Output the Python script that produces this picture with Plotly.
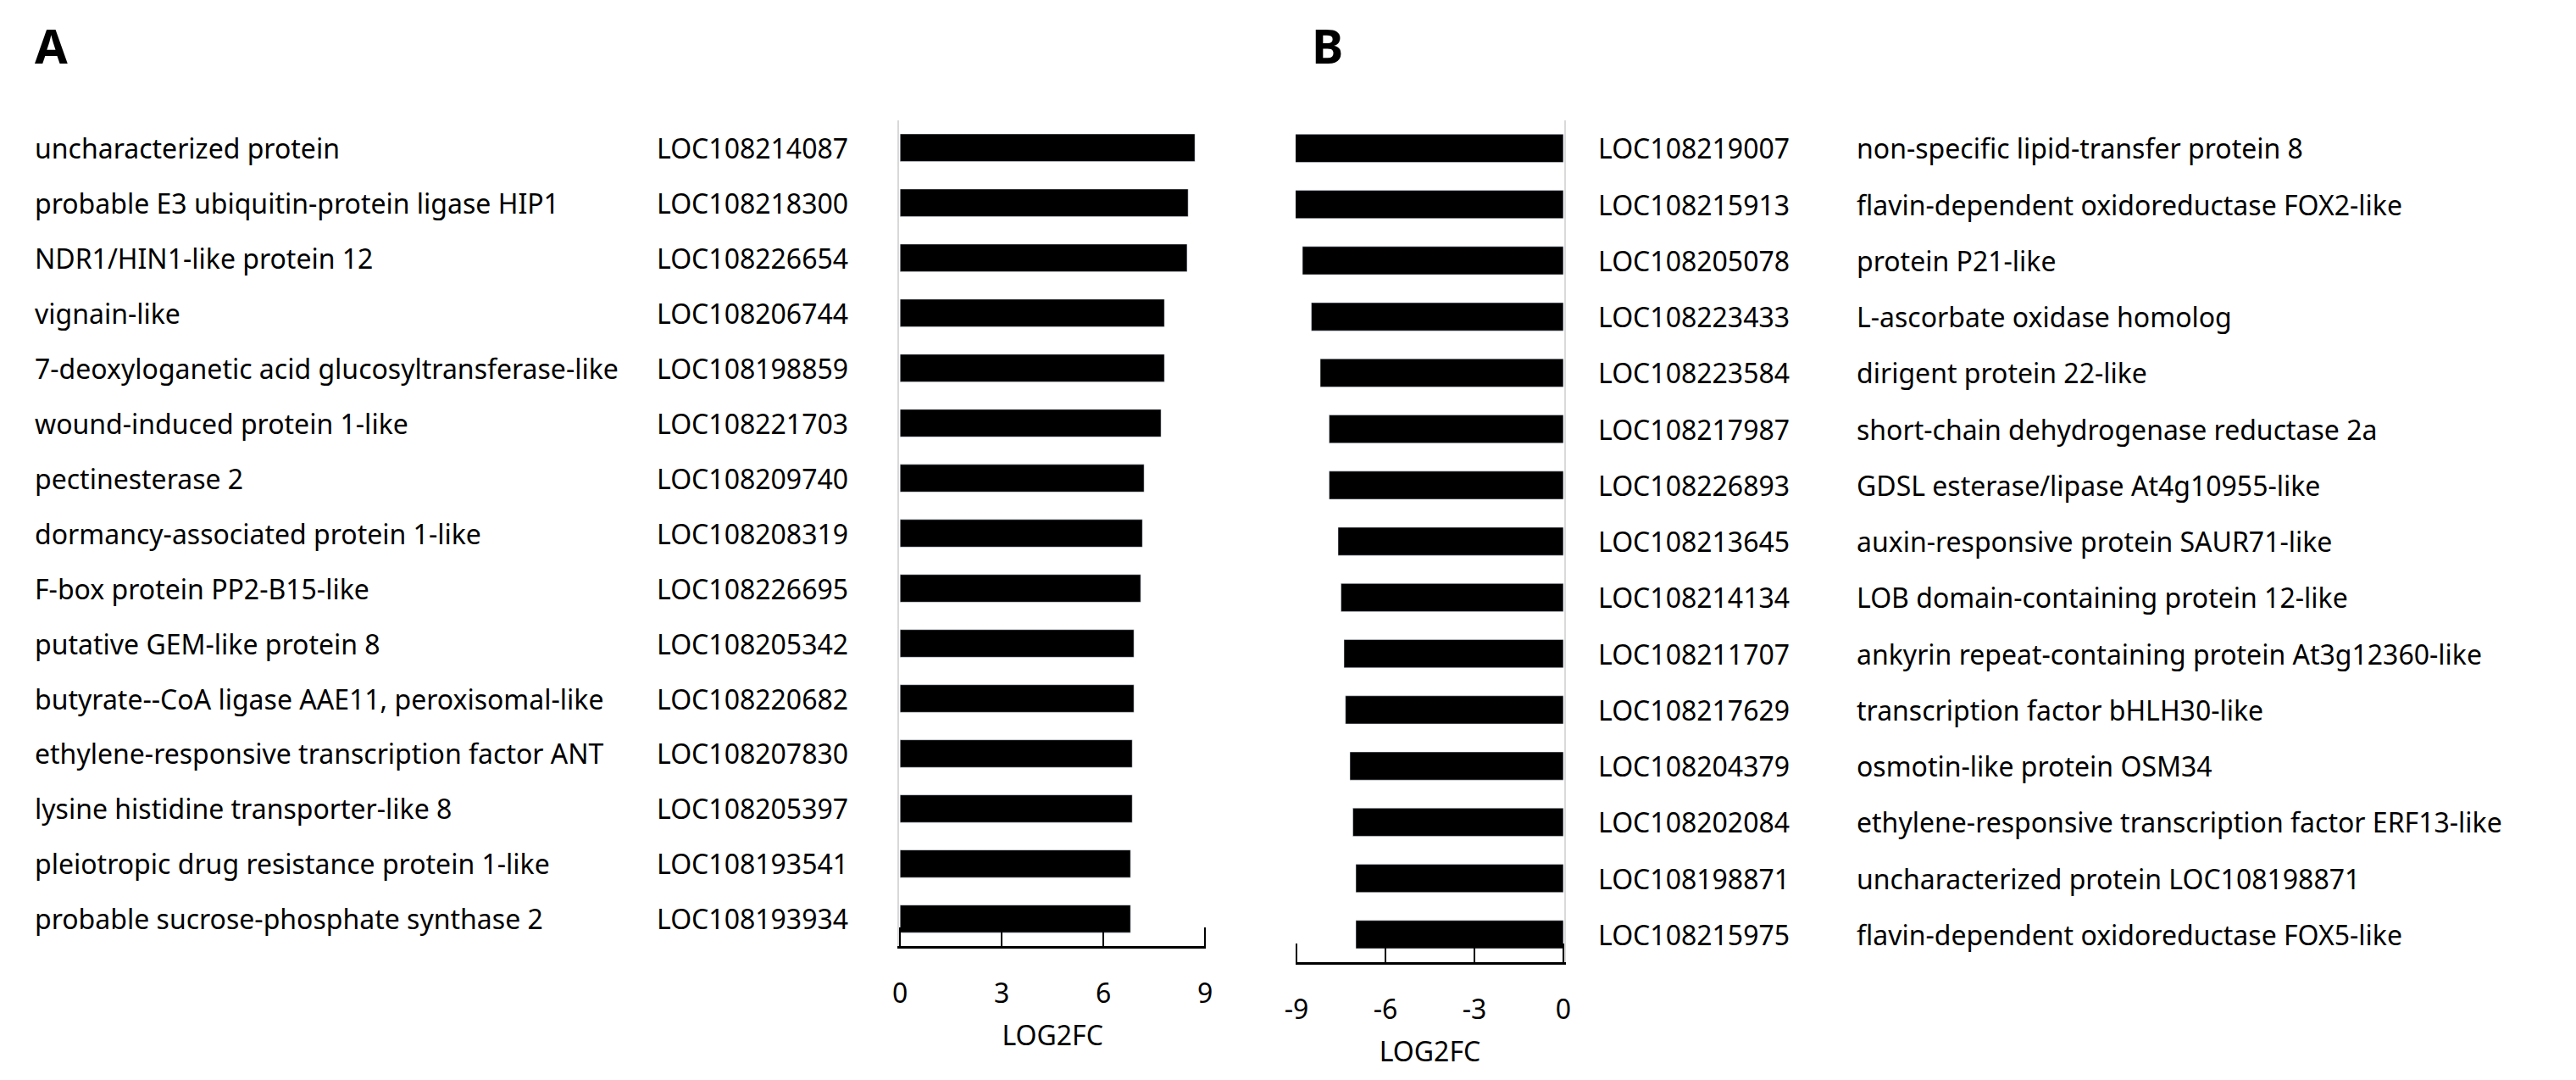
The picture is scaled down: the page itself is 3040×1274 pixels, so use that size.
import plotly.graph_objects as go

a_names = ["uncharacterized protein","probable E3 ubiquitin-protein ligase HIP1","NDR1/HIN1-like protein 12","vignain-like","7-deoxyloganetic acid glucosyltransferase-like","wound-induced protein 1-like","pectinesterase 2","dormancy-associated protein 1-like","F-box protein PP2-B15-like","putative GEM-like protein 8","butyrate--CoA ligase AAE11, peroxisomal-like","ethylene-responsive transcription factor ANT","lysine histidine transporter-like 8","pleiotropic drug resistance protein 1-like","probable sucrose-phosphate synthase 2"]
a_ids = ["LOC108214087","LOC108218300","LOC108226654","LOC108206744","LOC108198859","LOC108221703","LOC108209740","LOC108208319","LOC108226695","LOC108205342","LOC108220682","LOC108207830","LOC108205397","LOC108193541","LOC108193934"]
a_vals = [8.7,8.5,8.47,7.8,7.8,7.7,7.2,7.15,7.1,6.9,6.9,6.85,6.85,6.8,6.8]

b_ids = ["LOC108219007","LOC108215913","LOC108205078","LOC108223433","LOC108223584","LOC108217987","LOC108226893","LOC108213645","LOC108214134","LOC108211707","LOC108217629","LOC108204379","LOC108202084","LOC108198871","LOC108215975"]
b_names = ["non-specific lipid-transfer protein 8","flavin-dependent oxidoreductase FOX2-like","protein P21-like","L-ascorbate oxidase homolog","dirigent protein 22-like","short-chain dehydrogenase reductase 2a","GDSL esterase/lipase At4g10955-like","auxin-responsive protein SAUR71-like","LOB domain-containing protein 12-like","ankyrin repeat-containing protein At3g12360-like","transcription factor bHLH30-like","osmotin-like protein OSM34","ethylene-responsive transcription factor ERF13-like","uncharacterized protein LOC108198871","flavin-dependent oxidoreductase FOX5-like"]
b_vals = [-9.05,-9.05,-8.8,-8.5,-8.2,-7.9,-7.9,-7.6,-7.5,-7.4,-7.35,-7.2,-7.1,-7.0,-7.0]

ticks_a = [0,3,6,9]
ticks_b = [-9,-6,-3,0]
ticktext_b = ["-9","-6","-3","0"]

fig = go.Figure()
fig.add_trace(go.Bar(x=a_vals, y=a_ids, orientation="h", marker_color="black", width=0.5, xaxis="x", yaxis="y"))
fig.add_trace(go.Bar(x=b_vals, y=b_ids, orientation="h", marker_color="black", width=0.5, xaxis="x2", yaxis="y2"))

F = dict(family="Noto Sans", size=32, color="black")
for i in range(15):
    fig.add_annotation(x=0.006, xref="paper", y=a_ids[i], yref="y", text=a_names[i], showarrow=False, xanchor="left", font=F)
    fig.add_annotation(x=0.249, xref="paper", y=a_ids[i], yref="y", text=a_ids[i], showarrow=False, xanchor="left", font=F)
    fig.add_annotation(x=0.617, xref="paper", y=b_ids[i], yref="y2", text=b_ids[i], showarrow=False, xanchor="left", font=F)
    fig.add_annotation(x=0.718, xref="paper", y=b_ids[i], yref="y2", text=b_names[i], showarrow=False, xanchor="left", font=F)

fig.add_annotation(x=0.006, y=0.965, xref="paper", yref="paper", text="<b>A</b>", showarrow=False, xanchor="left", yanchor="middle", font=dict(family="Noto Sans", size=56, color="black"))
fig.add_annotation(x=0.505, y=0.965, xref="paper", yref="paper", text="<b>B</b>", showarrow=False, xanchor="left", yanchor="middle", font=dict(family="Noto Sans", size=56, color="black"))

ax = dict(showline=True, linecolor="black", linewidth=3, ticks="inside", ticklen=22, tickwidth=2, tickcolor="black",
          showgrid=False, zeroline=False, tickfont=F, ticklabelstandoff=25, title_font=F)
fig.update_layout(
    width=3040, height=1274, plot_bgcolor="white", paper_bgcolor="white", showlegend=False,
    margin=dict(l=0, r=0, t=0, b=0), bargap=0.5,
    xaxis=dict(domain=[0.3445, 0.4645], range=[-0.03, 9.03], tickvals=ticks_a, anchor="y",
               title=dict(text="LOG2FC", standoff=20), **ax),
    yaxis=dict(domain=[0.13, 0.895], autorange="reversed", showticklabels=False, showline=True, linecolor="#d9d9d9",
               linewidth=2, ticks="", showgrid=False, anchor="x"),
    xaxis2=dict(domain=[0.4995, 0.6045], range=[-9.03, 0.03], tickvals=ticks_b, ticktext=ticktext_b, anchor="y2",
                title=dict(text="LOG2FC", standoff=20), **ax),
    yaxis2=dict(domain=[0.115, 0.895], autorange="reversed", showticklabels=False, showline=True, linecolor="#d9d9d9",
                linewidth=2, ticks="", showgrid=False, anchor="x2", side="right"),
)
fig.write_html("out.html")
